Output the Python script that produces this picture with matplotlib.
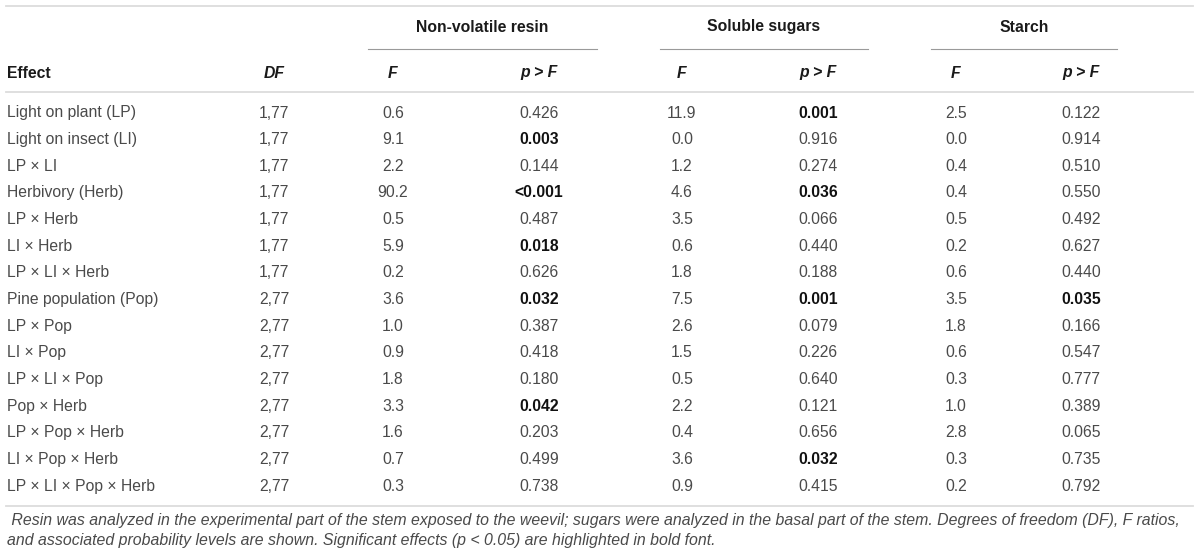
import numpy as np
import matplotlib
matplotlib.use("Agg")
import matplotlib.pyplot as plt

# table data
effects = ["Light on plant (LP)", "Light on insect (LI)", "LP \u00d7 LI", "Herbivory (Herb)",
           "LP \u00d7 Herb", "LI \u00d7 Herb", "LP \u00d7 LI \u00d7 Herb", "Pine population (Pop)",
           "LP \u00d7 Pop", "LI \u00d7 Pop", "LP \u00d7 LI \u00d7 Pop", "Pop \u00d7 Herb",
           "LP \u00d7 Pop \u00d7 Herb", "LI \u00d7 Pop \u00d7 Herb", "LP \u00d7 LI \u00d7 Pop \u00d7 Herb"]
dfs = ["1,77"] * 7 + ["2,77"] * 8
resin_F = ["0.6", "9.1", "2.2", "90.2", "0.5", "5.9", "0.2", "3.6", "1.0", "0.9", "1.8", "3.3", "1.6", "0.7", "0.3"]
resin_p = ["0.426", "0.003", "0.144", "<0.001", "0.487", "0.018", "0.626", "0.032", "0.387", "0.418",
           "0.180", "0.042", "0.203", "0.499", "0.738"]
sugar_F = ["11.9", "0.0", "1.2", "4.6", "3.5", "0.6", "1.8", "7.5", "2.6", "1.5", "0.5", "2.2", "0.4", "3.6", "0.9"]
sugar_p = ["0.001", "0.916", "0.274", "0.036", "0.066", "0.440", "0.188", "0.001", "0.079", "0.226",
           "0.640", "0.121", "0.656", "0.032", "0.415"]
starch_F = ["2.5", "0.0", "0.4", "0.4", "0.5", "0.2", "0.6", "3.5", "1.8", "0.6", "0.3", "1.0", "2.8", "0.3", "0.2"]
starch_p = ["0.122", "0.914", "0.510", "0.550", "0.492", "0.627", "0.440", "0.035", "0.166", "0.547",
            "0.777", "0.389", "0.065", "0.735", "0.792"]

groups = ["Non-volatile resin", "Soluble sugars", "Starch"]
caption = [" Resin was analyzed in the experimental part of the stem exposed to the weevil; sugars were analyzed "
           "in the basal part of the stem. Degrees of freedom (DF), F ratios,",
           "and associated probability levels are shown. Significant effects (p < 0.05) are highlighted in bold font."]

# layout (pixels)
W, H = 1200, 558
col_x = [274, 393, 539, 682, 818, 956, 1081]
grp_span = [(368, 597), (660, 868), (931, 1117)]
row0, row_h = 113, 26.65
fs = 11.3
txt_col = "#4a4a4a"
fam = ["Liberation Sans", "DejaVu Sans"]


def is_sig(s):
    return s.startswith("<") or float(s) < 0.05


fig = plt.figure(figsize=(W / 100, H / 100), dpi=100)
ax = fig.add_axes([0, 0, 1, 1])
ax.set_xlim(0, W)
ax.set_ylim(H, 0)
ax.axis("off")

# rules
ax.plot([6, 1193], [6, 6], color="#dcdcdc", lw=1.3)
ax.plot([6, 1193], [92, 92], color="#dcdcdc", lw=1.3)
ax.plot([6, 1193], [506, 506], color="#dcdcdc", lw=1.3)
for (x0, x1), g in zip(grp_span, groups):
    ax.plot([x0, x1], [49, 49], color="#9a9a9a", lw=0.8)
    ax.text((x0 + x1) / 2, 27, g, ha="center", va="center", fontsize=fs, fontweight="bold",
            color="#1a1a1a", family=fam)

# column headers
ax.text(7, 73, "Effect", ha="left", va="center", fontsize=fs, fontweight="bold", color="#1a1a1a", family=fam)
heads = ["DF", "F", "p > F", "F", "p > F", "F", "p > F"]
for x, h in zip(col_x, heads):
    ax.text(x, 73, h, ha="center", va="center", fontsize=fs, fontweight="bold", fontstyle="italic",
            color="#1a1a1a", family=fam)

# body
cols = [dfs, resin_F, resin_p, sugar_F, sugar_p, starch_F, starch_p]
for i, eff in enumerate(effects):
    y = row0 + i * row_h
    ax.text(7, y, eff, ha="left", va="center", fontsize=fs, color=txt_col, family=fam)
    for j, (x, col) in enumerate(zip(col_x, cols)):
        val = col[i]
        bold = j in (2, 4, 6) and is_sig(val)
        ax.text(x, y, val, ha="center", va="center", fontsize=fs,
                fontweight="bold" if bold else "normal",
                color="#111111" if bold else txt_col, family=fam)

# caption
ax.text(7, 520, caption[0], ha="left", va="center", fontsize=11.4, fontstyle="italic",
        color=txt_col, family=fam)
ax.text(7, 541, caption[1], ha="left", va="center", fontsize=11.4, fontstyle="italic",
        color=txt_col, family=fam)

fig.savefig("out.png", dpi=100)
